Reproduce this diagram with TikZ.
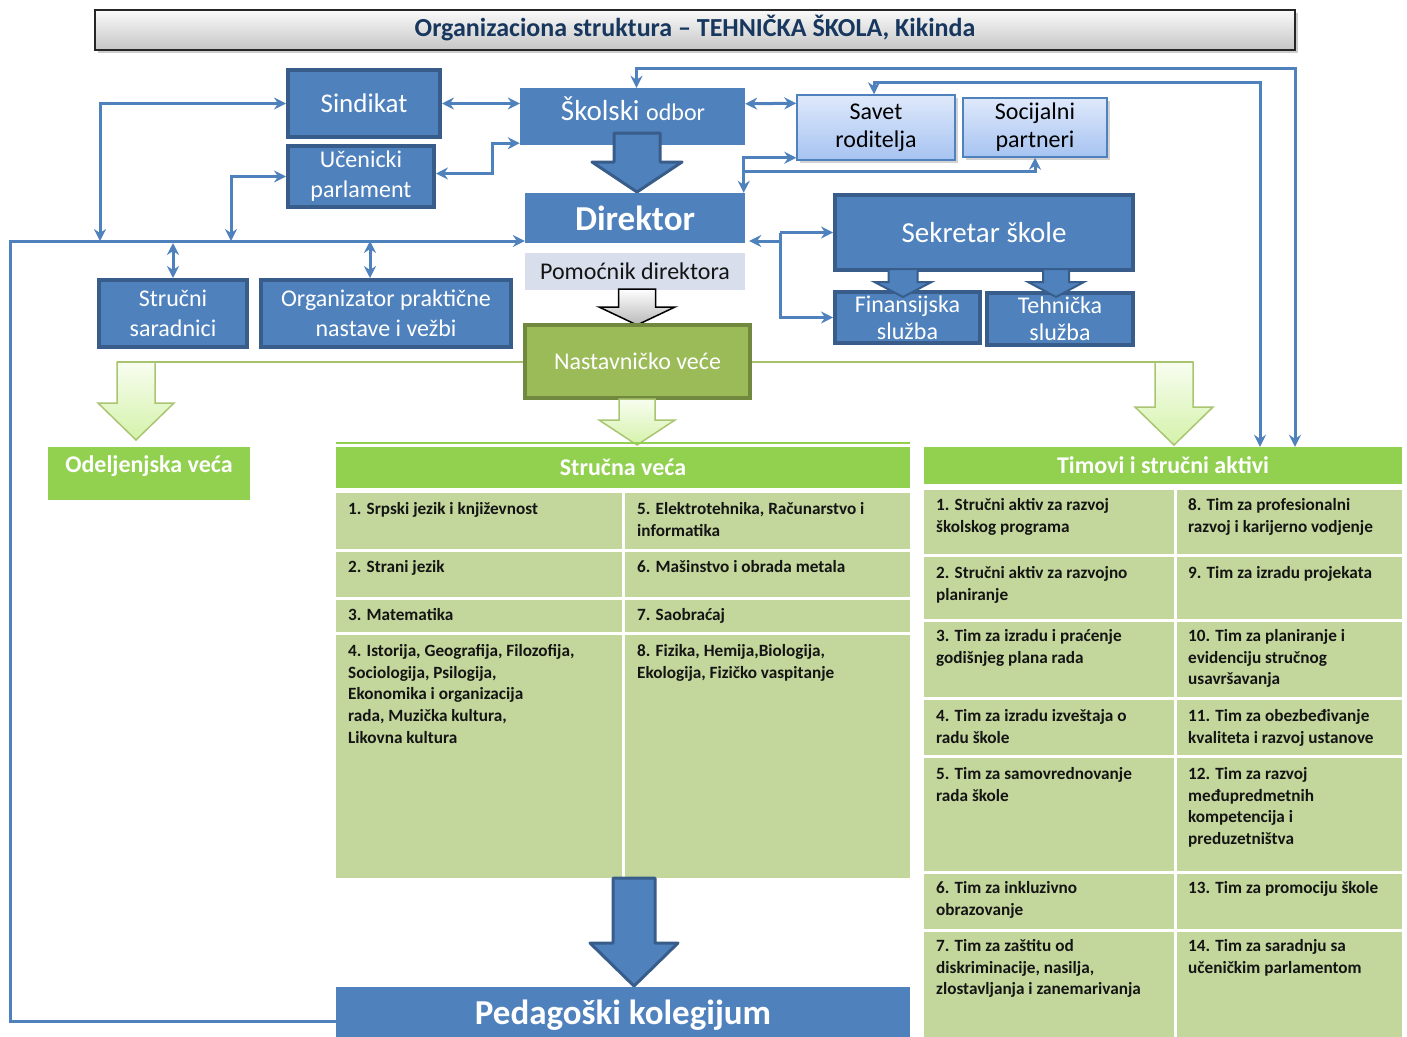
\documentclass[tikz,border=0pt]{standalone}
\usepackage{fontspec}
\setmainfont{Carlito}
\usetikzlibrary{arrows.meta,calc,shadows}
\definecolor{bl}{RGB}{79,129,189}
\definecolor{bld}{RGB}{56,93,138}
\definecolor{olv}{RGB}{155,187,89}
\definecolor{olvd}{RGB}{113,137,63}
\definecolor{grn}{RGB}{146,208,80}
\definecolor{cellc}{RGB}{195,214,155}
\definecolor{pomc}{RGB}{216,222,236}
\definecolor{ttl}{RGB}{23,55,94}
\definecolor{lbt}{RGB}{223,233,251}
\definecolor{lbb}{RGB}{166,195,241}
\definecolor{lgt}{RGB}{248,253,240}
\definecolor{lgb}{RGB}{212,242,170}
\definecolor{txtc}{RGB}{20,20,20}
\newcommand\fs[1]{\fontsize{#1}{#1}\selectfont}
\newcommand\fatdown[7]{% style, cx, top, headstart, tip, shaft half width, head half width
  \draw[#1] ({#2-#6},#3) -- ({#2+#6},#3) -- ({#2+#6},#4) -- ({#2+#7},#4) -- (#2,#5)
    -- ({#2-#7},#4) -- ({#2-#6},#4) -- cycle;}
\tikzset{
  bluebox/.style={fill=bl, draw=bld, line width=4pt, text=white, align=center, inner sep=0pt, font=\fs{24}},
  flatbox/.style={fill=bl, text=white, align=center, inner sep=0pt},
  ltbox/.style={top color=lbt, bottom color=lbb, draw=bl, line width=1.5pt, align=center, inner sep=0pt,
     font=\fs{24}, text=black, drop shadow={shadow xshift=3pt, shadow yshift=-3pt, opacity=0.35}},
  grnhead/.style={fill=grn, text=white, inner sep=0pt},
  conn/.style={draw=bl, line width=3pt, >={Stealth[length=12pt,width=12pt,inset=4pt]}},
  celltxt/.style={anchor=north west, inner sep=0pt, align=left, text=txtc, font=\fontsize{17.2}{21.8}\selectfont\bfseries},
  bigarrow/.style={fill=bl, draw=bld, line width=3pt, line join=round},
  smallarrow/.style={fill=bl, draw=bld, line width=2pt},
  lgarrow/.style={top color=lgt, bottom color=lgb, draw=olv!85, line width=1.5pt},
  grayarrow/.style={top color=white, bottom color=gray!55, draw=black, line width=1.5pt},
  gline/.style={draw=olv!90, line width=1.5pt}
}
\begin{document}
\begin{tikzpicture}[x=1pt,y=-1pt]
\useasboundingbox[fill=white] (0,0) rectangle (1407,1036);

% title
\node[top color=gray!4, bottom color=gray!45, draw=black!85, line width=2pt, minimum width=1200pt, minimum height=40pt,
  inner sep=0pt, drop shadow={shadow xshift=3pt, shadow yshift=-3pt, opacity=0.4}] (title) at (695,30) {};
\node[text=ttl, font=\fs{26}\bfseries] (titletxt) at (695,28) {Organizaciona struktura – TEHNIČKA ŠKOLA, Kikinda};

% upper left
\node[bluebox, minimum width=152pt, minimum height=67pt, font=\fs{27}] (sind) at (364,103.5) {Sindikat};
\node[bluebox, minimum width=146pt, minimum height=61pt, font=\fontsize{24}{30}\selectfont] (parl) at (361,176.5) {Učenicki\\parlament};

% central column
\node[flatbox, minimum width=225pt, minimum height=57pt] (odbor) at (632.5,116.5) {};
\node[text=white] (odbortxt) at (633,109) {{\fs{29}Školski }{\fs{24}odbor}};
\fatdown{bigarrow}{637}{133}{162}{192}{23}{45}
\node[flatbox, minimum width=220pt, minimum height=50pt, font=\fs{35}\bfseries] (dir) at (635,218) {Direktor};
\node[fill=pomc, minimum width=220pt, minimum height=37pt, inner sep=0pt, text=txtc, font=\fs{24}] (pom) at (635,271.5) {Pomoćnik direktora};
\fatdown{grayarrow}{637}{289}{307}{325}{18.5}{38}
\node[fill=olv, draw=olvd, line width=4pt, minimum width=225pt, minimum height=73pt, inner sep=0pt, text=white, font=\fs{24}] (nast) at (637.5,361.5) {Nastavničko veće};

% right upper
\node[ltbox, minimum width=158pt, minimum height=65pt, font=\fontsize{24}{28}\selectfont] (savet) at (876,127.5) {Savet\\roditelja};
\node[ltbox, minimum width=144pt, minimum height=59pt, font=\fontsize{24}{28}\selectfont] (soc) at (1035,127.5) {Socijalni\\partneri};
\node[bluebox, minimum width=298pt, minimum height=75pt, font=\fs{29}] (sek) at (984,232.5) {Sekretar škole};
\node[bluebox, minimum width=145pt, minimum height=51pt, font=\fontsize{24}{27}\selectfont] (fin) at (907.5,317.5) {Finansijska\\služba};
\node[bluebox, minimum width=146pt, minimum height=52pt, font=\fontsize{24}{27}\selectfont] (teh) at (1060,319) {Tehnička\\služba};
\fatdown{smallarrow}{903}{269}{282}{297}{14.5}{28.5}
\fatdown{smallarrow}{1056}{269}{282}{297}{13}{28}

% left row
\node[bluebox, minimum width=148pt, minimum height=67pt, font=\fontsize{24}{30}\selectfont] (ss) at (173,313.5) {Stručni\\saradnici};
\node[bluebox, minimum width=250pt, minimum height=67pt, font=\fontsize{24}{30}\selectfont] (org) at (386,313.5) {Organizator praktične\\nastave i vežbi};

% green level
\draw[gline] (nast.west |- 0,362) -- (117,362);
\draw[gline] (nast.east |- 0,362) -- (1193,362);
\fatdown{lgarrow}{136}{362}{403}{440}{19}{38}
\fatdown{lgarrow}{637}{399}{420}{445}{18}{38}
\fatdown{lgarrow}{1174}{362}{407}{445}{19}{39}

\node[grnhead, minimum width=202pt, minimum height=53pt] (odel) at (149,473.5) {};
\node[text=white, font=\fs{24}\bfseries] (odeltxt) at (149,466) {Odeljenjska veća};

% Strucna veca
\draw[draw=grn, line width=1.5pt] (336,443) -- (910,443);
\node[grnhead, minimum width=574pt, minimum height=41pt, font=\fs{24}\bfseries] (svh) at (623,467.5) {Stručna veća};
\fill[cellc] (336,493) rectangle (910,878);
\draw[white, line width=3pt] (623,493) -- (623,878) (336,550) -- (910,550) (336,598) -- (910,598) (336,633) -- (910,633);
\node[celltxt] (s1) at (348,502) {1. Srpski jezik i književnost};
\node[celltxt] (s5) at (637,502) {5. Elektrotehnika, Računarstvo i\\informatika};
\node[celltxt] (s2) at (348,560) {2. Strani jezik};
\node[celltxt] (s6) at (637,560) {6. Mašinstvo i obrada metala};
\node[celltxt] (s3) at (348,608) {3. Matematika};
\node[celltxt] (s7) at (637,608) {7. Saobraćaj};
\node[celltxt] (s4) at (348,644) {4. Istorija, Geografija, Filozofija,\\Sociologija, Psilogija,\\Ekonomika i organizacija\\rada, Muzička kultura,\\Likovna kultura};
\node[celltxt] (s8) at (637,644) {8. Fizika, Hemija,Biologija,\\Ekologija, Fizičko vaspitanje};

% Timovi
\node[grnhead, minimum width=478pt, minimum height=37pt, font=\fs{24}\bfseries] (timh) at (1163,465.5) {Timovi i stručni aktivi};
\fill[cellc] (924,490) rectangle (1402,1040);
\draw[white, line width=3pt] (1175,490) -- (1175,1040)
  (924,555) -- (1402,555) (924,620) -- (1402,620) (924,698) -- (1402,698)
  (924,756) -- (1402,756) (924,872) -- (1402,872) (924,930) -- (1402,930);
\node[celltxt] (t1) at (936,498) {1. Stručni aktiv za razvoj\\školskog programa};
\node[celltxt] (t8) at (1188,498) {8. Tim za profesionalni\\razvoj i karijerno vodjenje};
\node[celltxt] (t2) at (936,566) {2. Stručni aktiv za razvojno\\planiranje};
\node[celltxt] (t9) at (1188,566) {9. Tim za izradu projekata};
\node[celltxt] (t3) at (936,629) {3. Tim za izradu i praćenje\\godišnjeg plana rada};
\node[celltxt] (t10) at (1188,629) {10. Tim za planiranje i\\evidenciju stručnog\\usavršavanja};
\node[celltxt] (t4) at (936,709) {4. Tim za izradu izveštaja o\\radu škole};
\node[celltxt] (t11) at (1188,709) {11. Tim za obezbeđivanje\\kvaliteta i razvoj ustanove};
\node[celltxt] (t5) at (936,767) {5. Tim za samovrednovanje\\rada škole};
\node[celltxt] (t12) at (1188,767) {12. Tim za razvoj\\međupredmetnih\\kompetencija i\\preduzetništva};
\node[celltxt] (t6) at (936,881) {6. Tim za inkluzivno\\obrazovanje};
\node[celltxt] (t13) at (1188,881) {13. Tim za promociju škole};
\node[celltxt] (t7) at (936,939) {7. Tim za zaštitu od\\diskriminacije, nasilja,\\zlostavljanja i zanemarivanja};
\node[celltxt] (t14) at (1188,939) {14. Tim za saradnju sa\\učeničkim parlamentom};

% Pedagoski kolegijum
\fatdown{bigarrow}{634}{878}{943}{986}{21}{44}
\node[flatbox, minimum width=574pt, minimum height=69pt] (pk) at (623,1021.5) {};
\node[text=white, font=\fs{35}\bfseries] (pktxt) at (623,1015) {Pedagoški kolegijum};

% connectors
\coordinate (busL) at (10,241);
\coordinate (j1) at (100,241);
\coordinate (j2) at (231,241);
\draw[conn,->] (pk.west) -| (busL) -- (dir.west |- busL);
\draw[conn,<->] (j1) |- (sind.west);
\draw[conn,<->] (j2) |- (parl.west);
\draw[conn,<->] (ss.north) -- (ss.north |- 0,243);
\draw[conn,<->] ($(org.north)+(-16,0)$) -- ($(org.north)+(-16,-37)$);
\draw[conn,<->] (sind.east) -- (sind.east -| odbor.west);
\draw[conn,<->] ($(parl.east)+(0,-3)$) -- ($(parl.east)+(56,-3)$) |- ($(odbor.south west)+(0,-2)$);
\draw[conn,<->] ($(odbor.north east)+(0,16)$) -- ($(savet.north west)+(0,9)$);
\draw[conn,<->] ($(dir.north east)+(-1.5,0)$) |- ($(savet.south west)+(0,-3)$);
\draw[conn,->] ($(dir.north east)+(-1.5,-21)$) -| (soc.south);
\coordinate (r1) at (1295,68);
\coordinate (r2) at (1260,82);
\draw[conn,<->] ($(odbor.north)+(4,0)$) |- (r1) -- (r1 |- timh.north);
\draw[conn,<->] ($(savet.north)+(-2,0)$) |- (r2) -- (r2 |- timh.north);
\coordinate (sk) at (780,241);
\draw[conn,->] (sk) -- ($(dir.east |- sk)+(4,0)$);
\draw[conn,->] (sk |- sek.west) -- (sek.west);
\draw[conn,->] (sk |- sek.west) |- (fin.west);
\end{tikzpicture}
\end{document}
